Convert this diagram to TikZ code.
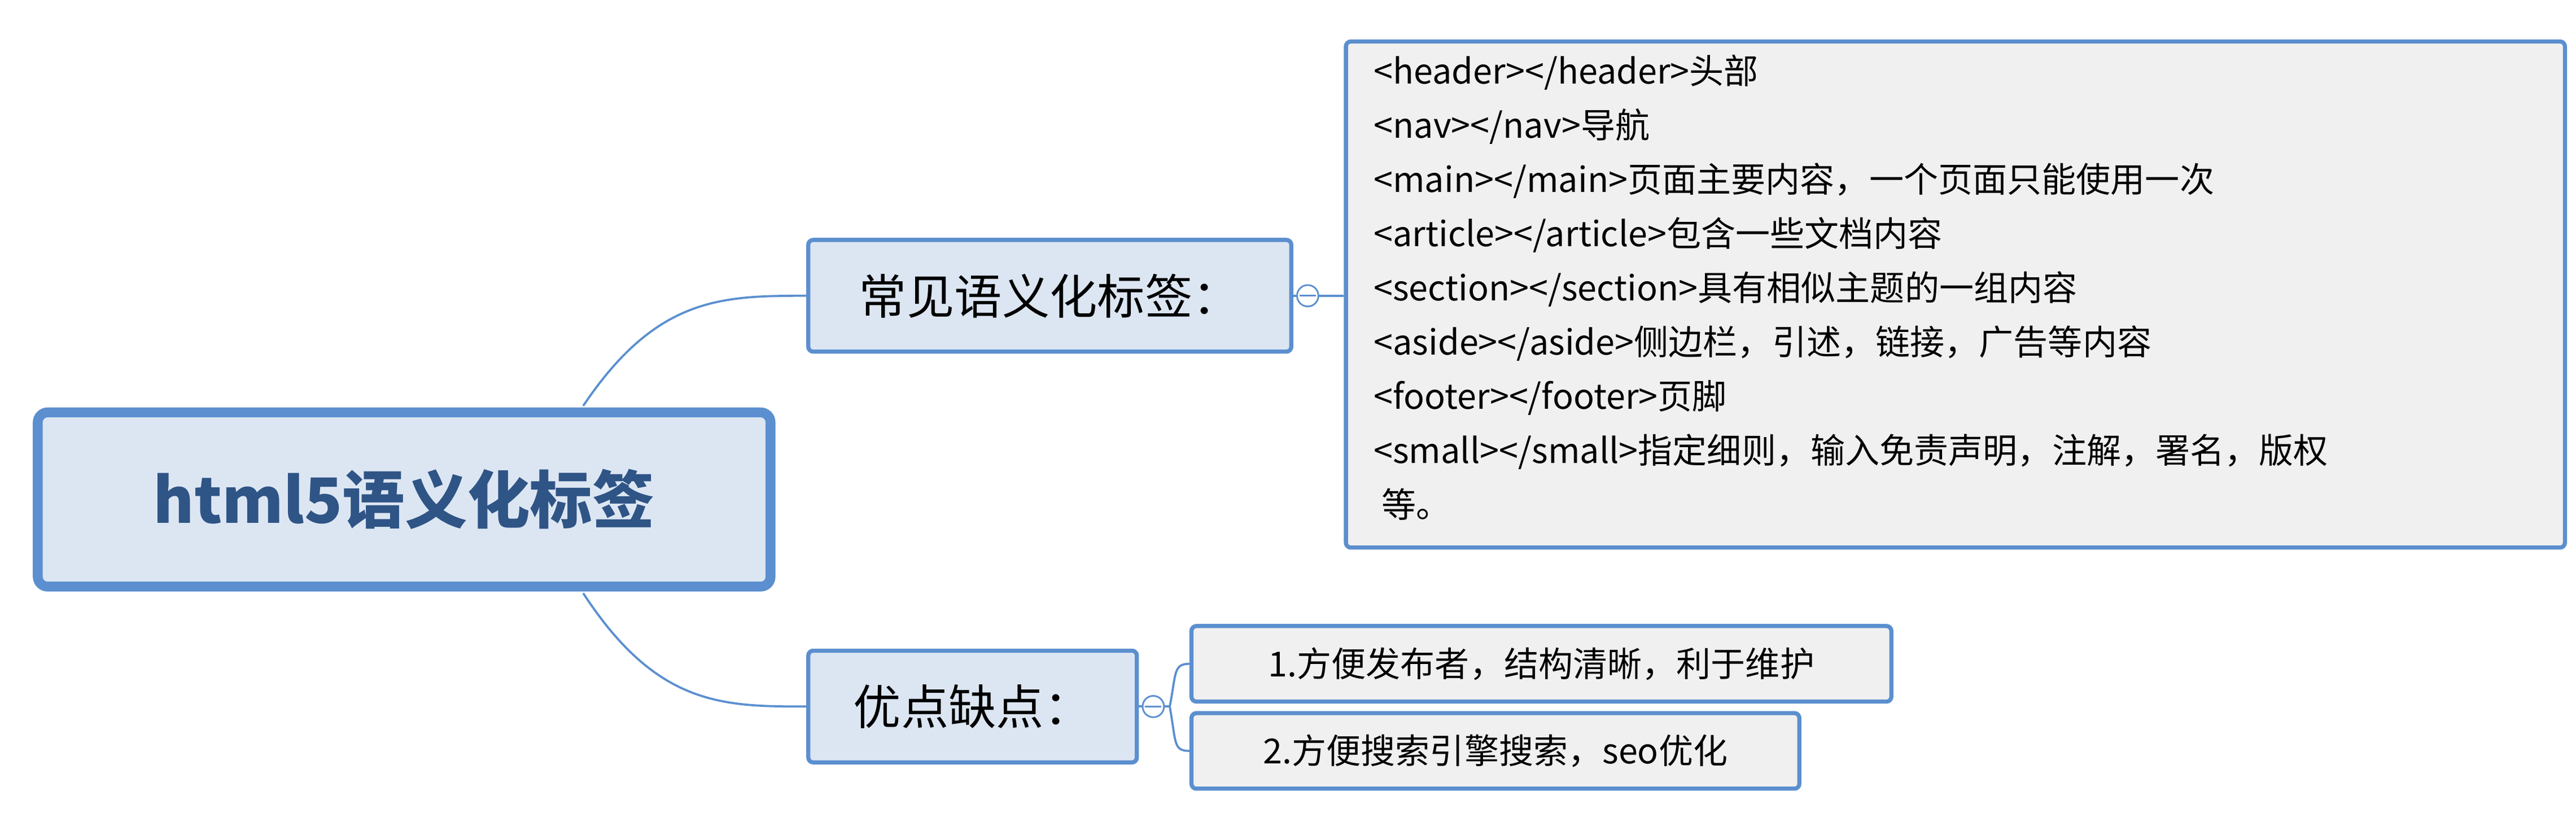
\documentclass[tikz,border=0pt]{standalone}
\usepackage{fontspec}
\setmainfont{Noto Sans CJK SC}
\begin{document}
\begin{tikzpicture}[x=1pt,y=-1pt,
  bx/.style={draw=blue!40!cyan!50!black!70!white, draw=bcol, fill=bfill, rounded corners=3pt, line width=2.5pt, inner sep=0pt},
  conn/.style={draw=lcol, line width=1.3pt},
  mcirc/.style={circle, draw=lcol, fill=white, line width=1pt, minimum size=13pt, inner sep=0pt}]
\definecolor{bcol}{HTML}{5B8FCF}
\definecolor{bfill}{HTML}{DCE6F2}
\definecolor{lcol}{HTML}{5B8FCF}
\definecolor{gfill}{HTML}{F0F0F0}
\definecolor{tcol}{HTML}{2F5486}
\useasboundingbox[fill=white] (0,0) rectangle (1568,505);
% connectors
\coordinate (rt) at (355,247);
\coordinate (rb) at (355,361);
\draw[conn] (rt) .. controls (400,180) and (440,180) .. (492,180);
\draw[conn] (rb) .. controls (400,430) and (440,430) .. (492,430);
\draw[conn] (786,180) -- (818,180);
\draw[conn] (692,430) -- (712,430);
\draw[conn] (712,430) .. controls (716,410) and (714,404) .. (724,404);
\draw[conn] (712,430) .. controls (716,452) and (714,457) .. (724,457);
% root
\node[bx, line width=6pt, rounded corners=6pt, minimum width=446pt, minimum height=106pt, text=tcol, font=\fontsize{38}{44}\selectfont\bfseries] (root) at (246,304) {html5语义化标签};
% branches
\node[bx, minimum width=294pt, minimum height=68pt, font=\fontsize{29}{34}\selectfont] (b1) at (639,180) {常见语义化标签：};
\node[bx, minimum width=200pt, minimum height=68pt, font=\fontsize{29}{34}\selectfont] (b2) at (592,430) {优点缺点：};
% details
\node[bx, fill=gfill, anchor=north west, minimum width=742pt, minimum height=308pt] (big) at (818,24) {};
\node[anchor=north west, align=left, inner sep=0pt, font=\fontsize{21}{33}\selectfont] (bigt) at (836,33) {%
<header></header>头部\\
<nav></nav>导航\\
<main></main>页面主要内容，一个页面只能使用一次\\
<article></article>包含一些文档内容\\
<section></section>具有相似主题的一组内容\\
<aside></aside>侧边栏，引述，链接，广告等内容\\
<footer></footer>页脚\\
<small></small>指定细则，输入免责声明，注解，署名，版权\\
\ 等。};
\node[bx, fill=gfill, anchor=west, minimum width=426pt, minimum height=46pt, font=\fontsize{21}{26}\selectfont] (l1) at (724,404) {1.方便发布者，结构清晰，利于维护};
\node[bx, fill=gfill, anchor=west, minimum width=370pt, minimum height=46pt, font=\fontsize{21}{26}\selectfont] (l2) at (724,457) {2.方便搜索引擎搜索，seo优化};
\node[mcirc] (c1) at (796,180) {};
\draw[lcol, line width=1pt] (791,180) -- (801,180);
\node[mcirc] (c2) at (702,430) {};
\draw[lcol, line width=1pt] (697,430) -- (707,430);
\end{tikzpicture}
\end{document}
